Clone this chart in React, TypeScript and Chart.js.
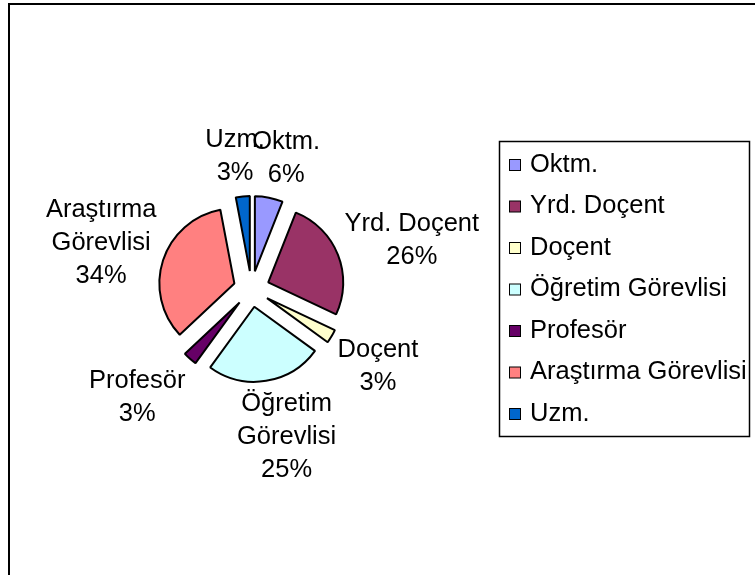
import React, { useEffect, useRef } from "react";
import { Chart, registerables } from "chart.js";

Chart.register(...registerables);

// ---- data ----
const categories = [
  "Oktm.",
  "Yrd. Doçent",
  "Doçent",
  "Öğretim Görevlisi",
  "Profesör",
  "Araştırma Görevlisi",
  "Uzm.",
];
const values = [6, 26, 3, 25, 3, 34, 3];
const colors = ["#9999FF", "#993366", "#FFFFCC", "#CCFFFF", "#660066", "#FF8080", "#0066CC"];

// ---- layout / style ----
const W = 755;
const H = 575;
const CX = 251.5;
const CY = 289;
const R = 75;
const EXPLODE = 18;
const LABEL_DIST = 100;
const FONT_FAMILY = '"Liberation Sans", Arial, Helvetica, sans-serif';
const FONT = `25.5px ${FONT_FAMILY}`;
const LINE_H = 33;
const WRAP_W = 145;

function wrapText(ctx: CanvasRenderingContext2D, text: string, maxW: number): string[] {
  const words = text.split(" ");
  const lines: string[] = [];
  let cur = "";
  for (const w of words) {
    const test = cur ? cur + " " + w : w;
    if (cur && ctx.measureText(test).width > maxW) {
      lines.push(cur);
      cur = w;
    } else {
      cur = test;
    }
  }
  if (cur) lines.push(cur);
  return lines;
}

const explodePlugin = {
  id: "explodeSlices",
  afterDatasetsUpdate(chart: any) {
    const meta = chart.getDatasetMeta(0);
    meta.data.forEach((arc: any) => {
      const mid = (arc.startAngle + arc.endAngle) / 2;
      arc.x += Math.cos(mid) * EXPLODE;
      arc.y += Math.sin(mid) * EXPLODE;
    });
  },
};

const framePlugin = {
  id: "frameAndBg",
  beforeDraw(chart: any) {
    const ctx = chart.ctx;
    ctx.save();
    ctx.fillStyle = "#ffffff";
    ctx.fillRect(0, 0, W, H);
    ctx.strokeStyle = "#000000";
    ctx.lineWidth = 2;
    ctx.strokeRect(9, 4, W + 20, H + 20);
    ctx.restore();
  },
};

const labelsPlugin = {
  id: "pieLabels",
  afterDatasetsDraw(chart: any) {
    const ctx: CanvasRenderingContext2D = chart.ctx;
    const meta = chart.getDatasetMeta(0);
    const data: number[] = chart.data.datasets[0].data;
    const total = data.reduce((a, b) => a + b, 0);
    const area = chart.chartArea;
    const cx = (area.left + area.right) / 2;
    const cy = (area.top + area.bottom) / 2;
    ctx.save();
    ctx.font = FONT;
    ctx.fillStyle = "#000000";
    ctx.textAlign = "center";
    ctx.textBaseline = "middle";
    meta.data.forEach((arc: any, i: number) => {
      const mid = (arc.startAngle + arc.endAngle) / 2;
      const lines = wrapText(ctx, chart.data.labels[i], WRAP_W);
      lines.push(Math.round((data[i] / total) * 100) + "%");
      const w = Math.max(...lines.map((l) => ctx.measureText(l).width));
      const h = lines.length * LINE_H;
      const c = Math.cos(mid); // x direction
      const s = Math.sin(mid); // y direction (down positive)
      const fx = Math.min(1, 2.5 * Math.abs(c));
      const fy = s < 0 ? Math.abs(s) : Math.min(1, 1.6 * Math.abs(s));
      const bx = cx + LABEL_DIST * c + Math.sign(c) * (w / 2) * fx;
      const by = cy + LABEL_DIST * s + Math.sign(s) * (h / 2) * fy;
      const top = by - h / 2;
      lines.forEach((l, j) => {
        ctx.fillText(l, bx, top + LINE_H / 2 + j * LINE_H);
      });
    });
    ctx.restore();
  },
};

const legendPlugin = {
  id: "boxLegend",
  afterDraw(chart: any) {
    const ctx: CanvasRenderingContext2D = chart.ctx;
    const labels: string[] = chart.data.labels;
    const ds = chart.data.datasets[0];
    const left = 499.5;
    const top = 141.5;
    const boxW = 250;
    const boxH = 295;
    const rowStart = 165.5;
    const rowStep = 41.5;
    ctx.save();
    ctx.fillStyle = "#ffffff";
    ctx.fillRect(left, top, boxW, boxH);
    ctx.strokeStyle = "#000000";
    ctx.lineWidth = 1.5;
    ctx.strokeRect(left, top, boxW, boxH);
    ctx.font = FONT;
    ctx.textAlign = "left";
    ctx.textBaseline = "middle";
    labels.forEach((lab, i) => {
      const y = rowStart + i * rowStep;
      ctx.fillStyle = ds.backgroundColor[i];
      ctx.fillRect(509.5, y - 6, 11, 11);
      ctx.lineWidth = 1;
      ctx.strokeStyle = "#000000";
      ctx.strokeRect(509.5, y - 6, 11, 11);
      ctx.fillStyle = "#000000";
      ctx.fillText(lab, 530, y - 1);
    });
    ctx.restore();
  },
};

export default function App() {
  const ref = useRef<HTMLCanvasElement | null>(null);
  useEffect(() => {
    if (!ref.current) return;
    const chart = new Chart(ref.current, {
      type: "pie",
      data: {
        labels: categories,
        datasets: [
          {
            data: values,
            backgroundColor: colors,
            borderColor: "#000000",
            borderWidth: 2,
            radius: R,
          } as any,
        ],
      },
      options: {
        responsive: false,
        devicePixelRatio: 1,
        animation: false,
        events: [],
        layout: {
          padding: {
            left: CX - R,
            right: W - CX - R,
            top: CY - R,
            bottom: H - CY - R,
          },
        },
        plugins: {
          legend: { display: false },
          tooltip: { enabled: false },
        },
      },
      plugins: [framePlugin, explodePlugin, labelsPlugin, legendPlugin],
    });
    return () => chart.destroy();
  }, []);
  return (
    <div style={{ position: "absolute", left: 0, top: 0, width: W, height: H }}>
      <canvas ref={ref} width={W} height={H} style={{ display: "block", width: W, height: H }} />
    </div>
  );
}
